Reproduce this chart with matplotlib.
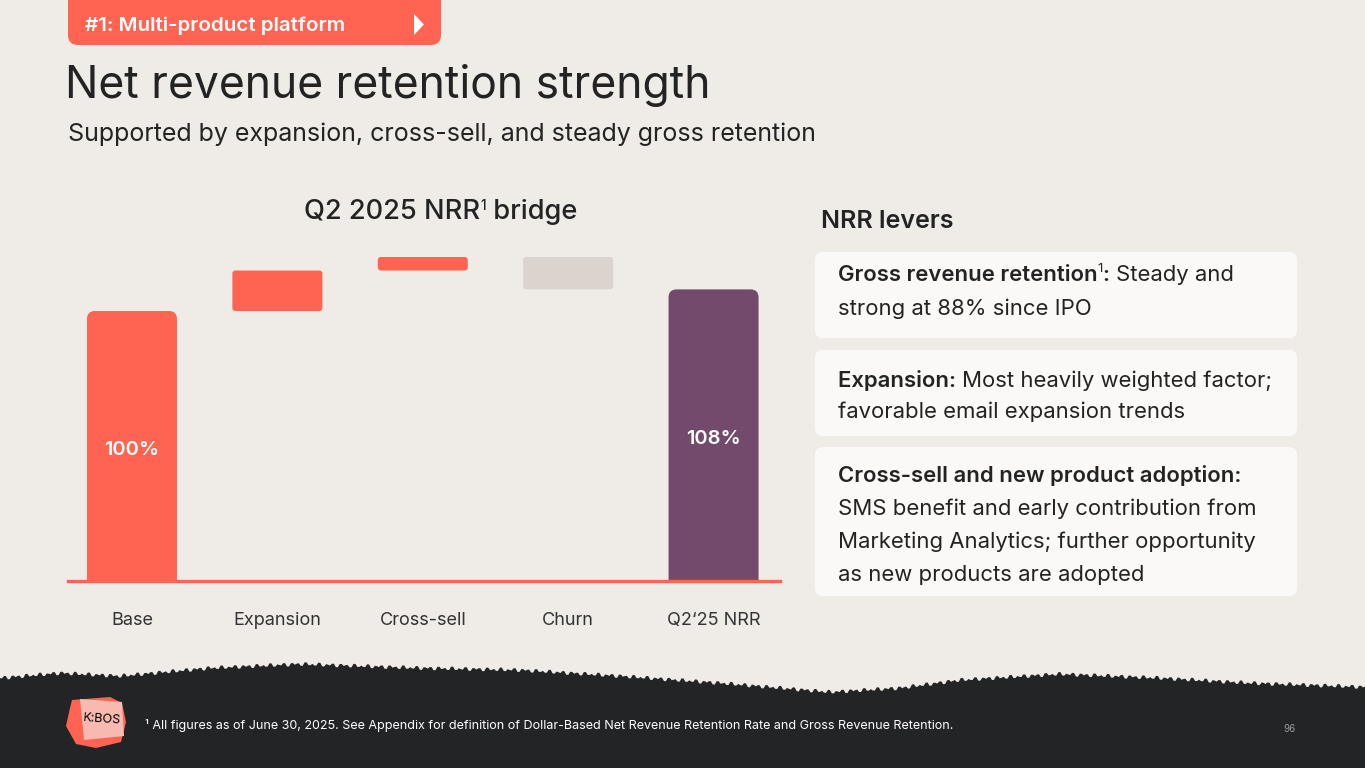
import matplotlib
matplotlib.use("Agg")
import matplotlib.pyplot as plt
from matplotlib.patches import FancyBboxPatch, Polygon
import numpy as np

# ---- data ----
categories = ["Base", "Expansion", "Cross-sell", "Churn", "Q2\u201825 NRR"]
base_value = 100
deltas = [15, 5, -12]          # expansion, cross-sell, churn
final_value = 108
bar_labels = ["100%", "", "", "", "108%"]

# ---- style ----
W, H = 1365, 768
BG = "#EFECE8"
CORAL = "#FF6351"
PURPLE = "#734A6C"
GREY = "#DAD3CE"
INK = "#232323"
CARD = "#FBF9F7"
DARK = "#232426"
FONT = "Inter"
plt.rcParams["font.family"] = [FONT, "DejaVu Sans"]

fig = plt.figure(figsize=(W / 100, H / 100), dpi=100)
fig.patch.set_facecolor(BG)

# overlay in pixel coordinates for the slide furniture
ov = fig.add_axes([0, 0, 1, 1], zorder=0)
ov.set_xlim(0, W)
ov.set_ylim(H, 0)
ov.axis("off")
renderer = fig.canvas.get_renderer()


def rich_line(x, y, parts, size, color=INK, ha="left"):
    """draw (text, weight, dy, scale) pieces one after another on one baseline"""
    items = []
    for txt, weight, dy, scale in parts:
        t = ov.text(0, y + dy, txt, fontsize=size * scale, fontweight=weight,
                    color=color, va="baseline", ha="left")
        items.append(t)
    widths = [t.get_window_extent(renderer=renderer).width for t in items]
    if ha == "center":
        x -= sum(widths) / 2
    for t, w in zip(items, widths):
        t.set_x(x)
        x += w


# tag at top
ov.add_patch(FancyBboxPatch((68, -20), 373, 65, boxstyle="round,pad=0,rounding_size=10",
                            fc=CORAL, ec="none"))
ov.text(85, 26, "#1: Multi-product platform", fontsize=14.8, fontweight="semibold",
        color="white", va="center")
ov.add_patch(Polygon([[414, 14], [414, 35], [424, 24.5]], closed=True, fc="white", ec="none"))

# titles
ov.text(65, 98, "Net revenue retention strength", fontsize=32, color=INK, va="baseline")
ov.text(68, 141, "Supported by expansion, cross-sell, and steady gross retention",
        fontsize=18, color=INK, va="baseline")
rich_line(441, 219, [("Q2 2025 NRR", "medium", 0, 1), ("1", "medium", -9, 0.5),
                     (" bridge", "medium", 0, 1)], 19.6, ha="center")

# right panel
ov.text(821, 228, "NRR levers", fontsize=18, fontweight="semibold", color=INK, va="baseline")
for y0, h in [(252, 86), (350, 86), (447, 149)]:
    ov.add_patch(FancyBboxPatch((815, y0), 482, h, boxstyle="round,pad=0,rounding_size=8",
                                fc=CARD, ec="none"))
fs = 15.9
rich_line(838, 281, [("Gross revenue retention", "semibold", 0, 1), ("1", "normal", -9, 0.6),
                     (": ", "semibold", 0, 1), ("Steady and", "normal", 0, 1)], fs)
rich_line(838, 315, [("strong at 88% since IPO", "normal", 0, 1)], fs)
rich_line(838, 387, [("Expansion: ", "semibold", 0, 1), ("Most heavily weighted factor;", "normal", 0, 1)], fs)
rich_line(838, 418, [("favorable email expansion trends", "normal", 0, 1)], fs)
rich_line(838, 482, [("Cross-sell and new product adoption:", "semibold", 0, 1)], fs)
rich_line(838, 515, [("SMS benefit and early contribution from", "normal", 0, 1)], fs)
rich_line(838, 548, [("Marketing Analytics; further opportunity", "normal", 0, 1)], fs)
rich_line(838, 581, [("as new products are adopted", "normal", 0, 1)], fs)

# torn dark footer
edge_x = [0, 60, 120, 210, 300, 420, 520, 620, 720, 830, 900, 960, 1060, 1160, 1250, 1365]
edge_y = [678, 673, 676, 668, 664, 668, 670, 676, 683, 692, 688, 680, 674, 678, 683, 687]
xs = np.linspace(0, W, 700)
ys = np.interp(xs, edge_x, edge_y) + 1.6 * np.sin(xs * 0.9) + 1.1 * np.sin(xs * 2.7)
ov.add_patch(Polygon(np.column_stack([np.r_[xs, W, 0], np.r_[ys, H, H]]), closed=True,
                     fc=DARK, ec="none"))
ov.text(145, 725, "\u00b9 All figures as of June 30, 2025. See Appendix for definition of "
        "Dollar-Based Net Revenue Retention Rate and Gross Revenue Retention.",
        fontsize=9.05, color="white", va="center")
ov.text(1290, 729, "96", fontsize=7, color="#9A9A9A", va="center", ha="center")

# logo
ov.add_patch(Polygon([[72, 700], [110, 697], [122, 703], [126, 722], [121, 742], [96, 748],
                      [76, 744], [66, 726], [70, 708]], closed=True, fc=CORAL, ec="none"))
ov.add_patch(Polygon([[80, 699], [122, 702], [124, 736], [84, 740]], closed=True,
                     fc="#F8B9B0", ec="none"))
ov.text(102, 719, "K:BOS", fontsize=9, color="black", ha="center", va="center", rotation=-4)

# ---- waterfall chart ----
ax = fig.add_axes([68 / W, 1 - 581 / H, (780 - 68) / W, (581 - 240) / H], zorder=1)
ax.set_facecolor("none")
px_x, px_y = 145.4, 2.7          # pixels per category / per percentage point
ax.set_xlim(-0.44, 4.457)
ax.set_ylim(0, 341 / px_y)

bottoms, heights = [0], [base_value]
running = base_value
for d in deltas:
    bottoms.append(running if d > 0 else running + d)
    heights.append(abs(d))
    running += d
bottoms.append(0)
heights.append(final_value)
colors = [CORAL, CORAL, CORAL, GREY, PURPLE]

bw = 90 / px_x
for i, (b, h, c) in enumerate(zip(bottoms, heights, colors)):
    r_px = 8 if b == 0 else 3
    y0 = b if b > 0 else -5
    ax.add_patch(FancyBboxPatch((i - bw / 2, y0), bw, h + b - y0,
                                boxstyle=f"round,pad=0,rounding_size={r_px / px_x}",
                                mutation_aspect=px_x / px_y, fc=c, ec="none"))
    if bar_labels[i]:
        ax.text(i, h / 2 - 1.5, bar_labels[i], ha="center", va="center", color="white",
                fontsize=14.5, fontweight="semibold")

ax.axhline(0, color=CORAL, lw=2.4, clip_on=False)
ax.set_xticks(range(len(categories)), categories)
ax.tick_params(axis="x", length=0, pad=22, labelsize=13, labelcolor="#333333")
ax.set_yticks([])
for s in ax.spines.values():
    s.set_visible(False)

fig.savefig("out.png", dpi=100, facecolor=BG)
